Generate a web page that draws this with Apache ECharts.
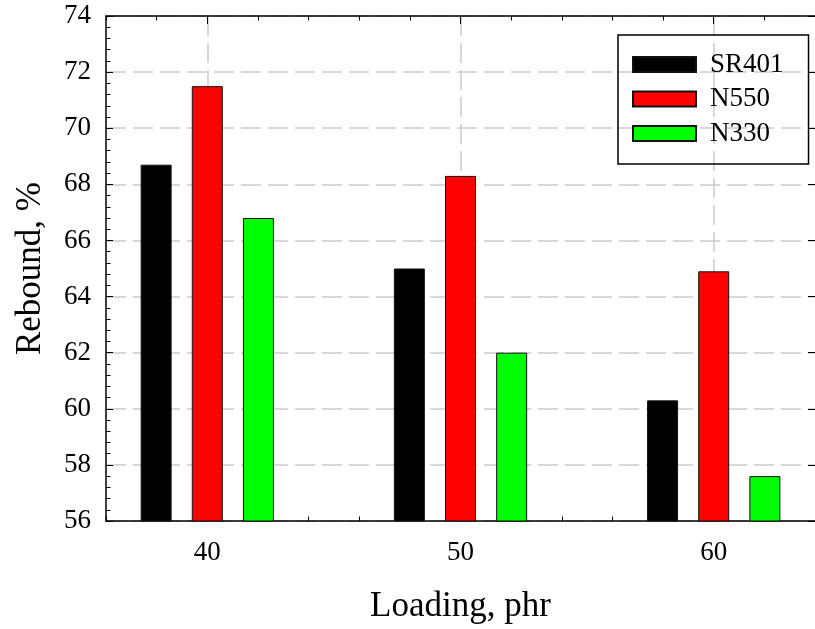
<!DOCTYPE html>
<html lang="en">
<head>
  <meta charset="utf-8">
  <title>Rebound vs loading</title>
  <script src="https://cdn.jsdelivr.net/npm/echarts@6/dist/echarts.min.js"></script>
  <style>
    html, body { margin: 0; padding: 0; background: #fff; }
    #chart1 { width: 815px; height: 629px; }
  </style>
</head>
<body>
<div id="chart1"></div>
<script>
  // data
  var loading = [40, 50, 60];
  var sr401 = [68.7, 65.0, 60.3];
  var n550 = [71.5, 68.3, 64.9];
  var n330 = [66.8, 62.0, 57.6];
  var seriesNames = ['SR401', 'N550', 'N330'];
  var seriesColors = ['#000000', '#ff0000', '#00ff00'];
  var majorTicks = [40, 50, 60];

  var font = "'Liberation Serif', 'Times New Roman', serif";
  var chart1 = echarts.init(document.getElementById('chart1'));

  function pairs(vals) {
    return loading.map(function (x, i) { return [x, vals[i]]; });
  }

  function makeBar(name, vals, color) {
    return {
      name: name,
      type: 'bar',
      data: pairs(vals),
      barWidth: 31,
      barGap: '65%',
      itemStyle: { color: color, borderColor: '#111', borderWidth: 1 }
    };
  }

  var gridDash = { color: '#cccccc', width: 1.5, type: [20, 7] };

  // minor ticks every 2 phr
  function minorX(pos) {
    return {
      type: 'value', position: pos, min: 36, max: 64, interval: 2,
      axisLine: { show: true, onZero: false, lineStyle: { color: '#000', width: 1.5 } },
      axisTick: { show: true, inside: true, length: 4.5, lineStyle: { color: '#000' } },
      axisLabel: { show: false },
      splitLine: { show: false }
    };
  }
  // major ticks / labels / grid at 40, 50, 60
  function majorX(pos, withLabels) {
    return {
      type: 'value', position: pos, min: 36, max: 64,
      axisLine: { show: false, onZero: false },
      axisTick: { show: true, inside: true, length: 8, customValues: majorTicks, lineStyle: { color: '#000' } },
      axisLabel: { show: withLabels, customValues: majorTicks, fontFamily: font, fontSize: 27, color: '#000', margin: 18 },
      splitLine: { show: withLabels, lineStyle: gridDash }
    };
  }

  var xb = majorX('bottom', true);
  xb.name = 'Loading, phr';
  xb.nameLocation = 'middle';
  xb.nameGap = 68;
  xb.nameTextStyle = { fontFamily: font, fontSize: 35, color: '#000' };

  var option = {
    animation: false,
    textStyle: { fontFamily: font },
    grid: { left: 106, top: 16, right: -5, bottom: 108, containLabel: false },
    legend: {
      orient: 'vertical',
      left: 618, top: 35,
      padding: [16, 25, 17, 14],
      borderColor: '#000', borderWidth: 1.5,
      icon: 'rect',
      itemWidth: 63, itemHeight: 15, itemGap: 7.5,
      textStyle: { fontFamily: font, fontSize: 27, color: '#000', padding: [0, 0, 0, 9] },
      data: seriesNames
    },
    xAxis: [minorX('bottom'), xb, minorX('top'), majorX('top', false)],
    yAxis: [
      {
        type: 'value', position: 'left', min: 56, max: 74, interval: 2,
        name: 'Rebound, %', nameLocation: 'middle', nameRotate: 90, nameGap: 58,
        nameTextStyle: { fontFamily: font, fontSize: 35, color: '#000' },
        axisLine: { show: true, lineStyle: { color: '#000', width: 1.5 } },
        axisTick: { show: true, inside: true, length: 7, lineStyle: { color: '#000' } },
        minorTick: { show: true, splitNumber: 5, length: 4.5, lineStyle: { color: '#000' } },
        axisLabel: { fontFamily: font, fontSize: 27, color: '#000', margin: 15 },
        splitLine: { show: true, lineStyle: gridDash }
      },
      {
        type: 'value', position: 'right', min: 56, max: 74, interval: 2,
        axisLine: { show: false },
        axisTick: { show: true, inside: true, length: 7, lineStyle: { color: '#000' } },
        axisLabel: { show: false },
        splitLine: { show: false }
      }
    ],
    series: [
      makeBar(seriesNames[0], sr401, seriesColors[0]),
      makeBar(seriesNames[1], n550, seriesColors[1]),
      makeBar(seriesNames[2], n330, seriesColors[2])
    ]
  };

  chart1.setOption(option);
</script>
</body>
</html>
